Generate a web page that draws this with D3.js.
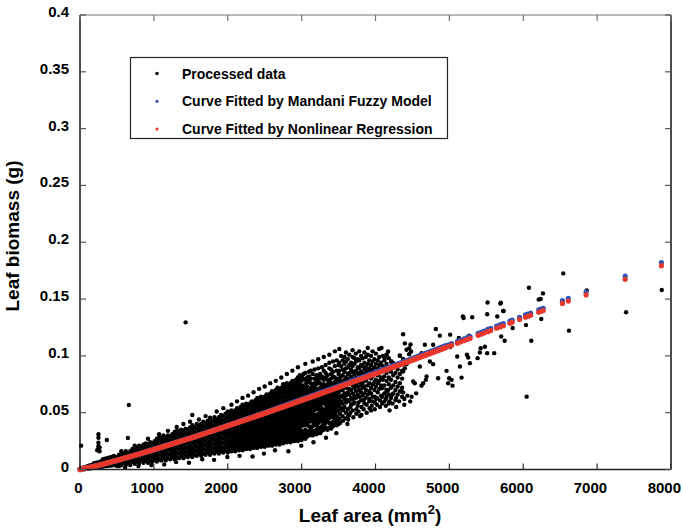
<!DOCTYPE html>
<html>
<head>
<meta charset="utf-8">
<script src="https://cdnjs.cloudflare.com/ajax/libs/d3/7.8.5/d3.min.js"></script>
<style>
body { margin: 0; background: #fff; }
text { font-family: Arial, "Liberation Sans", sans-serif; font-weight: bold; fill: #000; }
</style>
</head>
<body>
<div id="chart"></div>
<script>
// tick values / labels
var xTicks = [0, 1000, 2000, 3000, 4000, 5000, 6000, 7000, 8000];
var yTicks = [0, 0.05, 0.1, 0.15, 0.2, 0.25, 0.3, 0.35, 0.4];
var yTickLabels = ['0', '0.05', '0.1', '0.15', '0.2', '0.25', '0.3', '0.35', '0.4'];
var legendLabels = ['Processed data', 'Curve Fitted by Mandani Fuzzy Model', 'Curve Fitted by Nonlinear Regression'];

// processed data, columns of [leaf area mm2, [leaf biomass in mg ...]]
var scatterCols = [
 [15,[1,21]],[40,[0.5,1.5]],[70,[1,2,0.5]],[100,[1,2,3]],[130,[1.5,2.5,3.5,0.8]],
 [160,[2,3,4,1.2]],[190,[2,3,4.5,5.5,1.5]],[220,[2.5,3.5,5,6,1.8]],[233,[17]],
 [250,[3,4,5.5,6.5,2,31,28,23.5,20.5,18.5]],[265,[16,19.5]],[280,[3,4.5,6,7,2.2]],
 [310,[3.5,5,6.5,7.5,2.5,9]],[340,[4,5.5,7,8,3,9.5]],[363,[26]],[370,[4,6,7.5,8.5,3,10]],
 [400,[4.5,6,8,9,3.5,10.5]],[430,[5,6.5,8,9.5,3.5,11]],[460,[5,7,8.5,10,4,12]],
 [500,[3,7,11]],[530,[5,9,13,3]],[560,[4,8,12,16]],[590,[6,10,14]],[620,[4,8,12,16]],
 [650,[6,10,14]],[648,[27.8]],[661,[56.8]],[680,[4,8,12,16]],[710,[7,11,15,18]],
 [740,[5,9,13,17,21]],[770,[7,11,15,19]],[800,[5,9,13,17,21]],[830,[8,12,16,20]],
 [860,[6,10,14,18,22]],[890,[8,12,16,20,23]],[920,[6,10,14,18,22,27]],[950,[8,12,16,20,24]],
 [980,[7,11,15,19,23]],[1010,[9,13,17,21,25]],[1040,[7,11,15,19,23,27]],
 [1070,[9,13,17,21,25,28,31]],[1100,[8,12,16,20,24,28]],[1130,[10,14,18,22,26,30]],
 [1160,[8,12,16,20,24,28]],[1190,[10,14,18,22,26,30,34]],[1220,[9,13,17,21,25,29]],
 [1250,[11,15,19,23,27,31]],[1280,[9,13,17,21,25,29,33]],[1310,[11,15,19,23,27,31,34,37.5]],
 [1340,[10,14,18,22,26,30,34]],[1370,[12,16,20,24,28,32,35]],[1400,[10,14,18,22,26,30,34,40]],
 [1430,[12,16,20,24,28,32,36,129.5]],[1460,[11,15,19,23,27,31,35]],
 [1490,[13,17,21,25,29,33,37,42]],[1520,[11,15,19,23,27,31,35,39,48]],
 [1550,[13,17,21,25,29,33,37]],[1580,[12,16,20,24,28,32,36,40]],
 [1610,[14,18,22,26,30,34,38,44]],[1640,[12,16,20,24,28,32,36,40]],
 [1670,[14,18,22,26,30,34,38,42]],[1700,[13,17,21,25,29,33,37,41,47]],
 [1730,[15,19,23,27,31,35,39,43]],[1760,[13,17,21,25,29,33,37,41,45.5]],
 [1790,[15,19,23,27,31,35,39,43]],[1820,[14,18,22,26,30,34,38,42,46]],
 [1850,[16,20,24,28,32,36,40,44,51]],[1880,[14,18,22,26,30,34,38,42,46]],
 [1910,[16,20,24,28,32,36,40,44,48]],[1940,[15,19,23,27,31,35,39,43,47,54]],
 [1970,[17,21,25,29,33,37,41,45,49]],
 [2000,[15,19,23,27,31,35,39,43,47,51]],[2025,[17,21,25,29,33,37,41,45,49]],
 [2050,[16,20,24,28,32,36,40,44,48,52,57]],[2075,[18,22,26,30,34,38,42,46,50]],
 [2100,[16,20,24,28,32,36,40,44,48,52]],[2125,[18,22,26,30,34,38,42,46,50,54,60]],
 [2150,[17,21,25,29,33,37,41,45,49,53]],[2175,[19,23,27,31,35,39,43,47,51,55]],
 [2200,[17,21,25,29,33,37,41,45,49,53,57,63]],[2225,[19,23,27,31,35,39,43,47,51,55]],
 [2250,[18,22,26,30,34,38,42,46,50,54,58]],[2275,[20,24,28,32,36,40,44,48,52,56,65]],
 [2300,[18,22,26,30,34,38,42,46,50,54,58]],[2325,[20,24,28,32,36,40,44,48,52,56,60]],
 [2350,[19,23,27,31,35,39,43,47,51,55,59,68]],[2375,[21,25,29,33,37,41,45,49,53,57,61]],
 [2400,[19,23,27,31,35,39,43,47,51,55,59,63]],[2425,[21,25,29,33,37,41,45,49,53,57,61,71]],
 [2450,[20,24,28,32,36,40,44,48,52,56,60,64]],[2475,[22,26,30,34,38,42,46,50,54,58,62]],
 [2500,[20,24,28,32,36,40,44,48,52,56,60,64,73]],[2525,[22,26,30,34,38,42,46,50,54,58,62,66]],
 [2550,[21,25,29,33,37,41,45,49,53,57,61,65]],[2575,[23,27,31,35,39,43,47,51,55,59,63,67,76]],
 [2600,[21,25,29,33,37,41,45,49,53,57,61,65,69]],[2625,[23,27,31,35,39,43,47,51,55,59,63,67]],
 [2650,[22,26,30,34,38,42,46,50,54,58,62,66,70,78]],[2675,[24,28,32,36,40,44,48,52,56,60,64,68,72]],
 [2700,[22,26,30,34,38,42,46,50,54,58,62,66,70]],[2725,[24,28,32,36,40,44,48,52,56,60,64,68,72,81]],
 [2750,[23,27,31,35,39,43,47,51,55,59,63,67,71,75]],[2775,[25,29,33,37,41,45,49,53,57,61,65,69,73]],
 [2800,[24,28,32,36,40,44,48,52,56,60,64,68,72,76,84]],[2825,[26,30,34,38,42,46,50,54,58,62,66,70,74]],
 [2850,[24,28,32,36,40,44,48,52,56,60,64,68,72,76]],[2875,[26,30,34,38,42,46,50,54,58,62,66,70,74,78,87]],
 [2900,[25,29,33,37,41,45,49,53,57,61,65,69,73,77]],[2925,[27,31,35,39,43,47,51,55,59,63,67,71,75,79]],
 [2950,[25,29,33,37,41,45,49,53,57,61,65,69,73,77,81,90]],[2975,[27,31,35,39,43,47,51,55,59,63,67,71,75,79,83]],
 [3000,[26,30,34,38,42,46,50,54,58,62,66,70,74,78,82]],[3025,[28,32,40,44,48,52,56,60,64,68,72,80,84]],
 [3050,[27,31,35,39,43,47,51,55,59,63,67,71,75,79,85,93]],[3075,[29,33,41,45,49,53,57,61,65,69,73,77,81]],
 [3100,[30,34,38,42,46,50,54,58,62,66,70,78,82,86]],[3125,[32,36,44,48,52,56,60,64,68,72,76,80,87]],
 [3150,[30,34,38,42,46,50,54,58,62,66,70,74,84,95]],[3175,[32,40,44,48,52,56,60,64,68,72,76,80,88]],
 [3200,[31,35,39,43,47,55,59,63,67,71,75,79,83]],[3225,[33,37,41,45,49,53,57,61,65,69,77,81,89,97]],
 [3250,[32,36,44,48,52,56,60,64,68,72,76,80,84]],[3275,[34,38,42,46,50,54,58,62,66,70,74,82,90]],
 [3300,[35,39,43,47,51,59,63,67,71,75,79,87,99]],[3325,[37,41,45,49,53,57,61,65,69,73,81,85,92]],
 [3350,[35,43,47,51,55,59,63,67,71,75,79,83]],[3375,[37,41,45,49,53,57,61,65,69,73,77,89,94,101]],
 [3400,[36,40,48,52,56,60,64,68,72,76,80,84,88]],[3425,[38,42,46,50,54,58,62,66,70,74,82,86,95]],
 [3450,[41,45,49,53,57,61,65,69,73,77,81,91,104]],[3475,[39,43,47,51,55,59,63,67,71,75,79,87,96]],
 [3500,[40,44,52,56,60,64,68,72,76,80,84,92]],
 [3510,[45,57,63,69,75,80,87,94,106]],[3535,[54,60,65,70,73,78,82,91,100]],
 [3555,[47,58,64,70,76,83,88,96]],[3580,[55,62,67,74,79,86,93,99]],
 [3600,[50,59,65,72,77,81,89,95,103]],[3625,[53,61,68,75,80,84,90,97]],
 [3645,[48,60,66,71,78,85,92,101]],[3670,[57,63,70,76,82,88,94]],
 [3690,[52,62,67,74,80,86,91,99,105]],[3715,[59,65,72,79,84,93,98]],[3735,[63,69,75,81,87,95,102]],
 [3760,[56,66,73,78,85,90,97]],[3780,[64,70,77,83,89,96,104]],[3805,[61,68,74,80,86,92,100]],
 [3825,[65,72,76,84,91,98]],[3850,[58,67,73,79,88,94,103]],[3870,[63,70,78,85,90,99]],
 [3895,[66,74,81,87,93,101,107]],[3915,[60,69,76,83,89,96]],[3940,[67,72,80,86,92,100]],
 [3960,[64,75,82,88,95,104]],[3985,[70,77,84,90,97]],[4005,[62,73,79,86,93,102]],
 [4030,[68,76,83,89,96]],[4050,[71,78,85,92,99,106]],[4075,[65,74,81,88,94]],
 [4100,[72,79,87,91,100]],[4120,[60,67,74,82,89,96]],[4150,[64,70,78,85,93,101]],
 [4180,[58,66,75,81,88,98]],[4210,[63,72,79,86,95]],[4240,[67,74,83,90,93.5]],
 [4270,[61,70,77,85,92]],[4300,[66,73,81,88]],[4330,[69,76,84,100]],[4360,[64,72,80,87]],
 [4081,[107,71.4]],[4126,[98]],[4149,[101,68.5]],[4171,[103.9,70]],[4216,[95]],[4239,[93.5]],
 [4329,[100.3]],[4352,[68.5]],[4374,[119,97.4,86.2,67.9]],[4397,[111,89.1]],[4420,[105.4,92.7]],
 [4455,[106.8,101.5]],[4474,[110]],[4482,[103.9]],[4488,[64.1]],[4510,[77.4]],[4532,[75.9]],
 [4600,[90.6]],[4623,[102.4,73.8]],[4645,[75.9]],[4668,[109.8,101.5]],[4682,[78.9]],[4691,[81.8]],
 [4736,[95]],[4780,[109.8,92.7]],[4817,[123.6]],[4848,[80.3]],[4871,[117.8]],[4962,[86.8]],
 [4984,[75.9]],[4997,[80.3]],[5007,[107.7]],[5011,[118.7]],[5030,[78.9]],[5043,[73.8]],
 [5106,[99.5]],[5129,[115.7]],[5142,[90.6]],[5165,[80.9]],[5183,[134.8]],[5192,[133.3]],
 [5237,[101]],[5255,[98.6]],[5268,[117.8]],[5278,[93.6]],[5309,[134]],[5382,[98]],
 [5413,[103]],[5423,[106.8]],[5481,[108]],[5512,[136.6,102.4]],[5517,[147]],[5607,[102.4]],
 [5648,[134.6]],[5690,[146]],[5698,[146.8]],[5702,[117]],[5729,[139.5]],[5734,[139.5]],
 [5748,[113.3]],[5820,[130]],[5833,[130.4]],[5856,[124.5]],[6037,[127.1]],[6046,[64.1]],
 [6077,[160]],[6109,[113.3]],[6210,[149.6]],[6236,[150]],[6244,[132.5]],[6267,[155]],
 [6542,[172.6]],[6619,[122.2]],[6859,[157.5]],[7392,[138.4]],[7875,[158]],
 // scattered points below the main band
 [610,[1.5]],[790,[3]],[965,[4]],[1140,[4.5]],[1300,[6.5]],[1475,[6]],[1655,[9]],
 [1815,[8.5]],[1995,[11]],[2160,[12]],[2335,[11.5]],[2490,[14]],[2640,[17]],[2820,[16]],
 [2995,[21]],[3160,[24]],[3330,[28]],[3470,[32]],[3620,[40]],[3790,[47]],[3940,[52]],
 [3520,[41,49]],[3560,[43,52]],[3595,[45]],[3630,[44,47]],[3660,[50,55]],[3700,[46,58]],
 [3740,[49,53]],[3770,[51,59]],[3810,[48,55]],[3840,[53,61]],[3880,[50,57]],[3920,[54,62]],
 [3950,[56,60]],[3990,[53,59,64]],[4020,[57,63]],[4060,[55,61]],[4090,[58,64]],[4140,[56,62]],
 [4190,[52,60]],[4230,[58,66]],[4280,[55,63]],[4320,[60]],[4390,[57,62]],[4430,[65]],
 [4470,[60]],[4550,[67]]
];

// fitted curves: dense part (drawn as a continuous band)
var curveArea = [0, 250, 500, 750, 1000, 1250, 1500, 1750, 2000, 2250, 2500, 2750, 3000, 3250, 3500, 3750, 4000, 4250, 4500, 4750, 4950];
var nlrMass = [0, 0.0036, 0.008, 0.0126, 0.0175, 0.0225, 0.0277, 0.033, 0.0384, 0.0439, 0.0494, 0.0551, 0.0608, 0.0666, 0.0724, 0.0783, 0.0843, 0.0903, 0.0963, 0.1024, 0.1073];
var fuzzyMass = [0, 0.0036, 0.008, 0.0127, 0.0176, 0.0227, 0.0279, 0.0332, 0.0387, 0.0443, 0.0499, 0.0557, 0.0615, 0.0674, 0.0733, 0.0793, 0.0854, 0.0915, 0.0976, 0.1038, 0.1088];

// fitted curves: sparse part (individual points)
var fitArea = [4990, 5030, 5110, 5150, 5200, 5240, 5280, 5390, 5430, 5470, 5520, 5560, 5640, 5690, 5730, 5820, 5850, 5950, 6030, 6060, 6100, 6210, 6240, 6270, 6530, 6610, 6850, 7380, 7870];
var fitNlr = [0.1083, 0.1092, 0.1112, 0.1122, 0.1134, 0.1144, 0.1154, 0.1181, 0.1191, 0.1201, 0.1213, 0.1223, 0.1243, 0.1255, 0.1265, 0.1287, 0.1295, 0.132, 0.134, 0.1347, 0.1357, 0.1384, 0.1392, 0.1399, 0.1462, 0.1482, 0.1536, 0.1674, 0.1794];
var fitFuzzy = [0.1098, 0.1107, 0.1127, 0.1138, 0.115, 0.116, 0.117, 0.1198, 0.1208, 0.1219, 0.1233, 0.1243, 0.1263, 0.1275, 0.1285, 0.1307, 0.1315, 0.134, 0.136, 0.1367, 0.1377, 0.1404, 0.1412, 0.1419, 0.1487, 0.1507, 0.1562, 0.1702, 0.1822];

var red = '#e8382b', blue = '#3553b5';

var width = 683, height = 529;
var svg = d3.select('#chart').append('svg')
	.attr('width', width)
	.attr('height', height);

var x = d3.scaleLinear().domain([0, 8000]).range([80, 671]);
var y = d3.scaleLinear().domain([0, 0.4]).range([469.5, 15]);

// flatten the scatter columns
var points = [];
scatterCols.forEach(function(c) {
	c[1].forEach(function(m) { points.push([c[0], m / 1000]); });
});

var plot = svg.append('g');

plot.selectAll('circle.pd')
	.data(points)
	.enter().append('circle')
	.attr('class', 'pd')
	.attr('cx', function(d) { return x(d[0]); })
	.attr('cy', function(d) { return y(d[1]); })
	.attr('r', 2.2)
	.attr('fill', '#000');

// dense fitted band
var lineF = d3.line()
	.x(function(d, i) { return x(curveArea[i]); })
	.y(function(d) { return y(d); });

plot.append('path')
	.attr('d', lineF(fuzzyMass))
	.attr('fill', 'none')
	.attr('stroke', blue)
	.attr('stroke-width', 5.5)
	.attr('stroke-linecap', 'round');

plot.append('path')
	.attr('d', lineF(nlrMass))
	.attr('fill', 'none')
	.attr('stroke', red)
	.attr('stroke-width', 5.5)
	.attr('stroke-linecap', 'round');

// sparse fitted points
plot.selectAll('circle.fz')
	.data(fitFuzzy)
	.enter().append('circle')
	.attr('class', 'fz')
	.attr('cx', function(d, i) { return x(fitArea[i]); })
	.attr('cy', function(d) { return y(d); })
	.attr('r', 2.6)
	.attr('fill', blue);

plot.selectAll('circle.nl')
	.data(fitNlr)
	.enter().append('circle')
	.attr('class', 'nl')
	.attr('cx', function(d, i) { return x(fitArea[i]); })
	.attr('cy', function(d) { return y(d); })
	.attr('r', 2.6)
	.attr('fill', red);

// frame
var x0 = x(0), x1 = x(8000), y0 = y(0), y1 = y(0.4);
svg.append('line').attr('x1', x0).attr('x2', x1).attr('y1', y1).attr('y2', y1)
	.attr('stroke', '#777').attr('stroke-width', 1.2);
svg.append('line').attr('x1', x1).attr('x2', x1).attr('y1', y1).attr('y2', y0)
	.attr('stroke', '#111').attr('stroke-width', 1.5);
svg.append('line').attr('x1', x0).attr('x2', x1).attr('y1', y0).attr('y2', y0)
	.attr('stroke', '#222').attr('stroke-width', 1.5);
svg.append('line').attr('x1', x0).attr('x2', x0).attr('y1', y1).attr('y2', y0)
	.attr('stroke', '#111').attr('stroke-width', 1.5);

// ticks (inward, on all sides)
var tl = 6;
xTicks.forEach(function(t) {
	svg.append('line').attr('x1', x(t)).attr('x2', x(t)).attr('y1', y0).attr('y2', y0 - tl)
		.attr('stroke', '#333').attr('stroke-width', 1.2);
	svg.append('line').attr('x1', x(t)).attr('x2', x(t)).attr('y1', y1).attr('y2', y1 + tl)
		.attr('stroke', '#777').attr('stroke-width', 1.2);
	var lbl = svg.append('text')
		.attr('y', 493)
		.style('font-size', '15px')
		.text(t);
	// labels sit a little left of their tick, as in the original
	var w = lbl.node().getComputedTextLength();
	lbl.attr('x', x(t) - 0.7 * w);
});
yTicks.forEach(function(t, i) {
	svg.append('line').attr('x1', x0).attr('x2', x0 + tl).attr('y1', y(t)).attr('y2', y(t))
		.attr('stroke', '#555').attr('stroke-width', 1.2);
	svg.append('line').attr('x1', x1).attr('x2', x1 - tl).attr('y1', y(t)).attr('y2', y(t))
		.attr('stroke', '#555').attr('stroke-width', 1.2);
	svg.append('text')
		.attr('x', 69).attr('y', y(t) + 2)
		.attr('text-anchor', 'end')
		.style('font-size', '15px')
		.text(yTickLabels[i]);
});

// axis titles
var xl = svg.append('text')
	.attr('x', 370).attr('y', 522)
	.attr('text-anchor', 'middle')
	.style('font-size', '19px');
xl.append('tspan').text('Leaf area (mm');
xl.append('tspan').attr('dy', -8).style('font-size', '13px').text('2');
xl.append('tspan').attr('dy', 8).text(')');

svg.append('text')
	.attr('transform', 'translate(19,236) rotate(-90)')
	.attr('text-anchor', 'middle')
	.style('font-size', '19px')
	.text('Leaf biomass (g)');

// legend
var lg = svg.append('g');
lg.append('rect')
	.attr('x', 130.5).attr('y', 57.5)
	.attr('width', 317).attr('height', 81)
	.attr('fill', '#fff')
	.attr('stroke', '#222')
	.attr('stroke-width', 1.2);
var legColors = ['#000', blue, red];
legendLabels.forEach(function(l, i) {
	var ly = 73.5 + i * 27.8;
	lg.append('circle').attr('cx', 157).attr('cy', ly).attr('r', i === 0 ? 1.8 : 1.6).attr('fill', legColors[i]);
	lg.append('text').attr('x', 182).attr('y', ly + 5).style('font-size', '14px').text(l);
});
</script>
</body>
</html>
